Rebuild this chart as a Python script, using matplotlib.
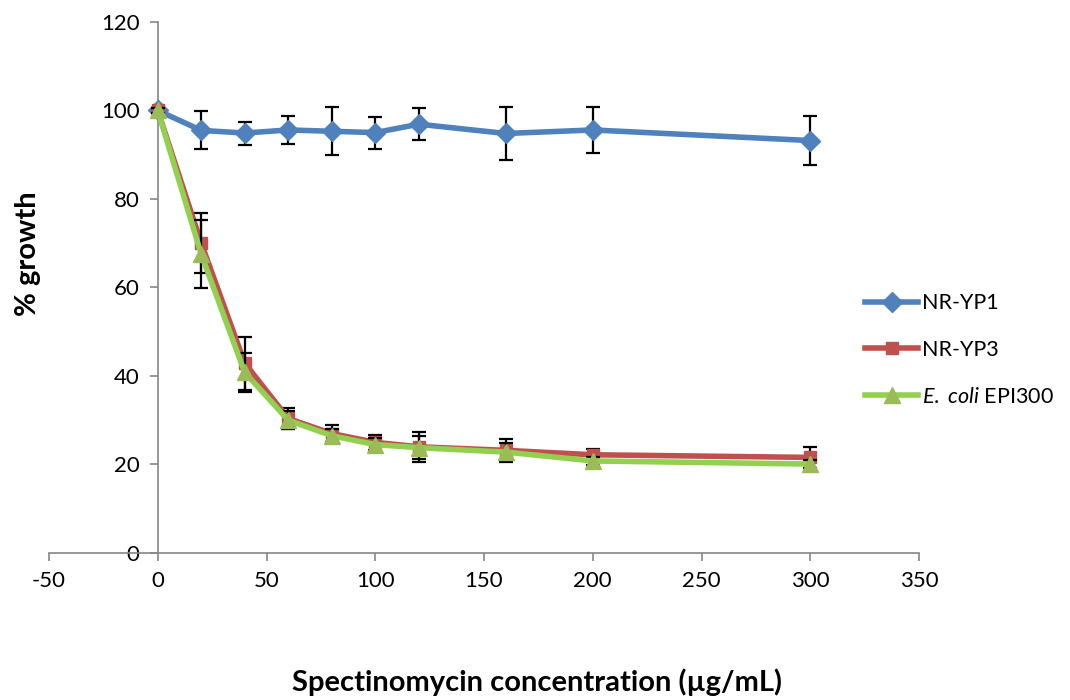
import matplotlib
matplotlib.use("Agg")
import matplotlib.pyplot as plt
from matplotlib.lines import Line2D

plt.rcParams['font.family'] = ['Lato', 'DejaVu Sans']
plt.rcParams['mathtext.fontset'] = 'custom'
plt.rcParams['mathtext.it'] = 'Lato:italic'
plt.rcParams['mathtext.rm'] = 'Lato'
plt.rcParams['axes.unicode_minus'] = False

# spectinomycin concentration (ug/mL)
conc = [0, 20, 40, 60, 80, 100, 120, 160, 200, 300]

yp1 = [100, 95.5, 94.9, 95.6, 95.3, 95.0, 96.9, 94.8, 95.6, 93.2]
yp1_err = [0.5, 4.3, 2.6, 3.2, 5.4, 3.6, 3.6, 6.0, 5.2, 5.5]

yp3 = [100, 70.0, 42.9, 30.4, 27.0, 25.0, 24.0, 23.2, 22.2, 21.6]
yp3_err = [0.5, 6.8, 6.0, 2.3, 1.9, 1.7, 3.4, 2.6, 1.4, 2.3]

epi = [100, 67.5, 40.8, 30.0, 26.5, 24.5, 23.8, 22.8, 20.8, 20.1]
epi_err = [0.5, 7.7, 4.5, 2.0, 1.5, 1.5, 2.6, 2.0, 1.0, 1.0]

names = ['NR-YP1', 'NR-YP3', r'$\mathit{E.}$ $\mathit{coli}$ EPI300']
xticks = [-50, 0, 50, 100, 150, 200, 250, 300, 350]
yticks = [0, 20, 40, 60, 80, 100, 120]

fig = plt.figure(figsize=(10.7, 7.0), dpi=100)
ax = fig.add_axes([0.0458, 0.21, 0.8131, 0.7586])

eb_kw = dict(ecolor='black', elinewidth=1.6, capsize=5, capthick=1.6)
styles = [
    dict(color='#4F81BD', lw=4, marker='D', ms=10, mfc='#4F81BD', mec='#4F81BD'),
    dict(color='#C0504D', lw=4, marker='s', ms=9, mfc='#C0504D', mec='#C0504D'),
    dict(color='#92D050', lw=4, marker='^', ms=12, mfc='#9BBB59', mec='#9BBB59'),
]

for i, (y, e) in enumerate([(yp1, yp1_err), (yp3, yp3_err), (epi, epi_err)]):
    ax.errorbar(conc, y, yerr=e, zorder=3 + i, **styles[i], **eb_kw)

ax.set_xlim(-50, 350)
ax.set_ylim(0, 120)
ax.set_xticks(xticks)
ax.set_yticks(yticks)

for s in ['top', 'right']:
    ax.spines[s].set_visible(False)
ax.spines['left'].set_position(('data', 0))
for s in ['left', 'bottom']:
    ax.spines[s].set_color('#868686')
    ax.spines[s].set_linewidth(1.2)
ax.tick_params(axis='both', colors='#868686', labelcolor='black',
               labelsize=16, length=6, width=1.2, direction='out')
ax.tick_params(axis='x', pad=7)
ax.tick_params(axis='y', pad=7)

fig.text(0.026, 0.637, '% growth', rotation=90, ha='center', va='center',
         fontsize=21, fontweight='bold')
fig.text(0.502, 0.026, 'Spectinomycin concentration (\u00b5g/mL)', ha='center',
         va='center', fontsize=21, fontweight='bold')

handles = [Line2D([], [], **st) for st in styles]
ax.legend(handles, names, loc='center left', bbox_to_anchor=(0.8, 0.50),
          bbox_transform=fig.transFigure, frameon=False, fontsize=15.5,
          handlelength=2.5, labelspacing=1.25, handletextpad=0.15, borderaxespad=0)

fig.savefig('out.png', dpi=100)
